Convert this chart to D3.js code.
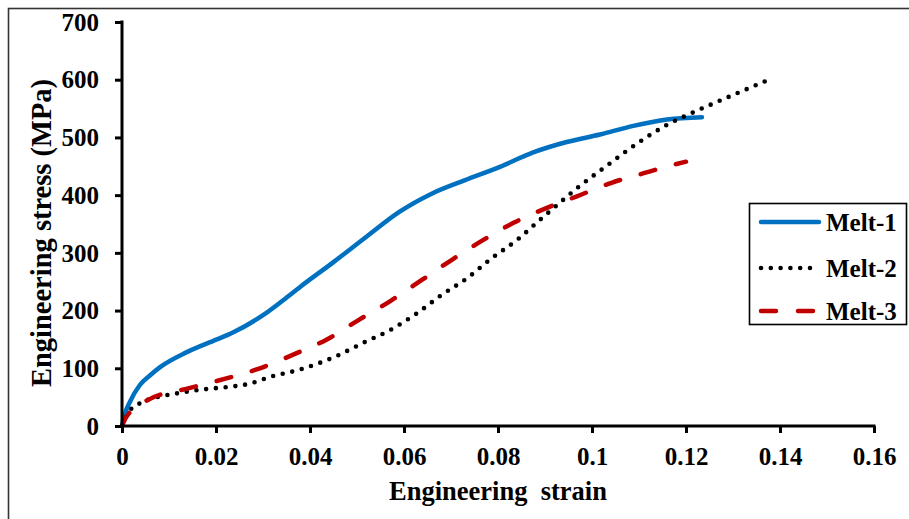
<!DOCTYPE html>
<html>
<head>
<meta charset="utf-8">
<script src="https://cdn.jsdelivr.net/npm/d3@7"></script>
<style>
  html, body { margin: 0; padding: 0; background: #fff; }
  svg { display: block; }
  text { font-family: "Liberation Serif", "Times New Roman", serif; font-weight: bold; fill: #000; }
</style>
</head>
<body>
<svg id="chart" width="909" height="519"></svg>
<script>
// ---- data ----
const melt1Strain = [0, 0.0005, 0.0017, 0.0038, 0.006, 0.0081, 0.0138, 0.0202, 0.0236, 0.03, 0.0343, 0.0379, 0.045, 0.052, 0.059, 0.066, 0.073, 0.0804, 0.0875, 0.0946, 0.1017, 0.1088, 0.116, 0.1234];
const melt1Stress = [0, 18, 42, 71, 88, 102, 128, 150, 162, 192, 218, 241, 284, 328, 371, 403, 426, 449, 474, 492, 505, 520, 531, 535];

const melt2Strain = [0, 0.001, 0.0021, 0.0040, 0.0120, 0.018, 0.023, 0.027, 0.0315, 0.0379, 0.0453, 0.0513, 0.057, 0.0627, 0.068, 0.0734, 0.0787, 0.084, 0.0889, 0.0936, 0.0968, 0.103, 0.1095, 0.116, 0.1217, 0.129, 0.1385];
const melt2Stress = [0, 18, 31, 40, 57, 64, 68, 73, 85, 98, 120, 144, 166, 195, 227, 256, 291, 322, 357, 390, 412, 450, 489, 522, 544, 570, 603];

const melt3Strain = [0, 0.0008, 0.0017, 0.006, 0.0145, 0.022, 0.029, 0.0368, 0.0436, 0.0504, 0.057, 0.0638, 0.0702, 0.0768, 0.0833, 0.0904, 0.0968, 0.104, 0.111, 0.118, 0.120];
const melt3Stress = [0, 14, 24, 47, 66, 82, 99, 125, 150, 184, 216, 253, 288, 322, 352, 378, 398, 421, 438, 454, 458];

const seriesNames = ["Melt-1", "Melt-2", "Melt-3"];
const xTicks = [0, 0.02, 0.04, 0.06, 0.08, 0.1, 0.12, 0.14, 0.16];
const xTickLabels = ["0", "0.02", "0.04", "0.06", "0.08", "0.1", "0.12", "0.14", "0.16"];
const yTicks = [0, 100, 200, 300, 400, 500, 600, 700];
const xTitle = "Engineering\u00A0\u00A0strain";
const yTitle = "Engineering stress (MPa)";

(function () {
// ---- layout ----
const svg = d3.select("#chart");
const pLeft = 122, pRight = 874, pTop = 22, pBottom = 426;

const x = d3.scaleLinear().domain([0, 0.16]).range([pLeft, pRight]);
const y = d3.scaleLinear().domain([0, 700]).range([pBottom, pTop]);

// outer frame (cut off at right/bottom as in reference)
svg.append("rect")
  .attr("x", 8.5).attr("y", 8.5).attr("width", 1000).attr("height", 1000)
  .attr("fill", "none").attr("stroke", "#333").attr("stroke-width", 1.6);

// ---- series ----
const series = [
  { name: seriesNames[0], xs: melt1Strain, ys: melt1Stress, color: "#0070C0", dash: null },
  { name: seriesNames[1], xs: melt2Strain, ys: melt2Stress, color: "#000000", dash: "0,9.8" },
  { name: seriesNames[2], xs: melt3Strain, ys: melt3Stress, color: "#C00000", dash: "15,21.5" }
];

const line = d3.line()
  .x(d => x(d[0])).y(d => y(d[1]))
  .curve(d3.curveMonotoneX);

const widths = [4.5, 4.6, 4.5];
series.forEach((s, i) => {
  const pts = s.xs.map((v, j) => [v, s.ys[j]]);
  svg.append("path")
    .datum(pts)
    .attr("d", line)
    .attr("fill", "none")
    .attr("stroke", s.color)
    .attr("stroke-width", widths[i])
    .attr("stroke-linecap", "round")
    .attr("stroke-linejoin", "round")
    .attr("stroke-dasharray", s.dash);
});

// ---- axes ----
const xAxis = d3.axisBottom(x)
  .tickValues(xTicks)
  .tickFormat((d, i) => xTickLabels[i])
  .tickSizeInner(7).tickSizeOuter(0).tickPadding(15);
const gx = svg.append("g").attr("transform", `translate(0,${pBottom})`).call(xAxis);

const yAxis = d3.axisLeft(y)
  .tickValues(yTicks)
  .tickFormat(d3.format("d"))
  .tickSizeInner(7).tickSizeOuter(0).tickPadding(16);
const gy = svg.append("g").attr("transform", `translate(${pLeft},0)`).call(yAxis);

[gx, gy].forEach(g => {
  g.select(".domain").attr("stroke", "#000").attr("stroke-width", 3);
  g.selectAll(".tick line").attr("stroke", "#000").attr("stroke-width", 3);
  g.selectAll(".tick text")
    .style("font-family", "'Liberation Serif', 'Times New Roman', serif")
    .style("font-weight", "bold")
    .style("font-size", "25px")
    .attr("fill", "#000");
});
gx.select(".domain").attr("d", `M${pLeft - 1.5},0H${pRight + 1.5}`);
gy.select(".domain").attr("d", `M0,${pBottom + 1.5}V${pTop - 1.5}`);
gy.selectAll(".tick text").attr("dy", "0.33em");
gx.selectAll(".tick text").attr("dy", "0.68em");

// axis titles
svg.append("text")
  .attr("x", 498).attr("y", 500)
  .attr("text-anchor", "middle")
  .style("font-size", "26.5px")
  .text(xTitle);

svg.append("text")
  .attr("transform", `translate(51,233) rotate(-90)`)
  .attr("text-anchor", "middle")
  .style("font-size", "28.5px")
  .text(yTitle);

// ---- legend ----
const lg = svg.append("g");
lg.append("rect")
  .attr("x", 749.5).attr("y", 203.5).attr("width", 157).attr("height", 121)
  .attr("fill", "#fff").attr("stroke", "#000").attr("stroke-width", 1.6);

const legendY = [222, 268, 311];
series.forEach((s, i) => {
  lg.append("line")
    .attr("x1", 761).attr("x2", 819)
    .attr("y1", legendY[i]).attr("y2", legendY[i])
    .attr("stroke", s.color)
    .attr("stroke-width", widths[i])
    .attr("stroke-linecap", "round")
    .attr("stroke-dasharray", i === 1 ? "0,9.8" : (i === 2 ? "15,22" : null));
  lg.append("text")
    .attr("x", 826).attr("y", legendY[i])
    .attr("dy", "0.35em")
    .style("font-size", "25px")
    .text(s.name);
});
})();
</script>
</body>
</html>
